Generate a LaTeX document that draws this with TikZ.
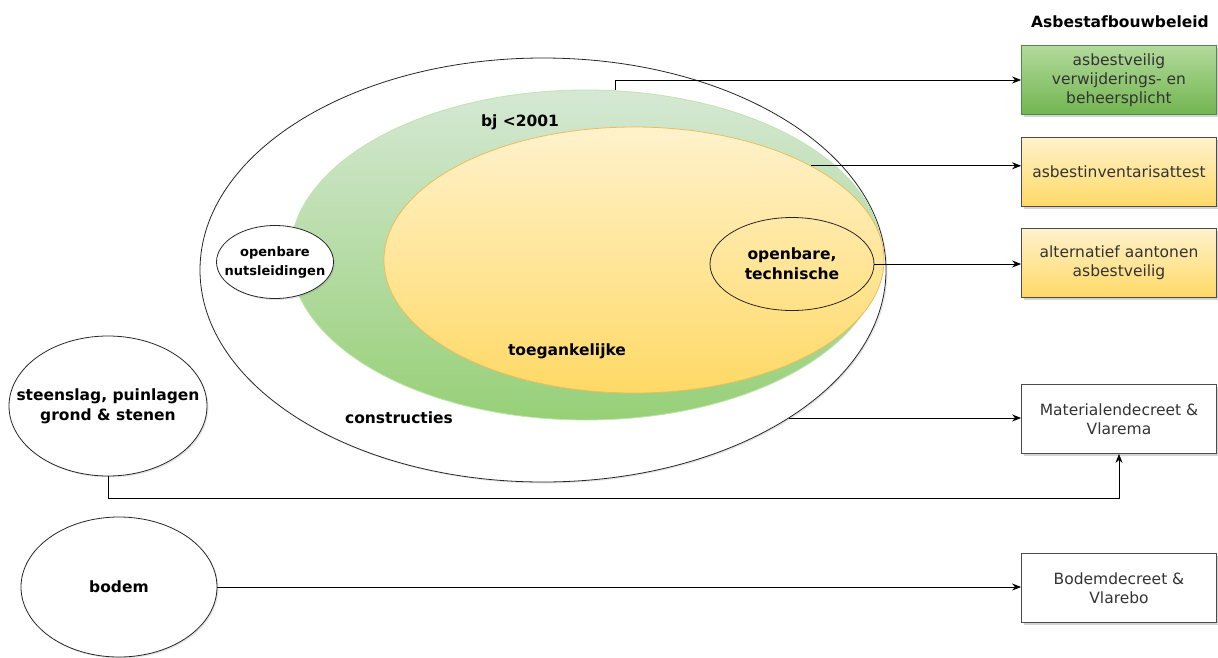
\documentclass[tikz,border=0pt]{standalone}
\usepackage{fontspec}
\setmainfont{DejaVu Sans}
\usetikzlibrary{shapes.geometric,shadows,arrows.meta}
\definecolor{grtop}{HTML}{D5E8D4}
\definecolor{grbot}{HTML}{97D077}
\definecolor{gbtop}{HTML}{B2DA9C}
\definecolor{gbbot}{HTML}{72B550}
\definecolor{yetop}{HTML}{FFF2CC}
\definecolor{yebot}{HTML}{FFD966}

\begin{document}
\begin{tikzpicture}[x=1pt,y=-1pt,line width=0.8pt,>={Stealth[length=9pt,width=7pt]},
    every node/.style={font=\fontsize{15.5}{19}\selectfont},
    lbl/.style={font=\bfseries\fontsize{15.5}{20}\selectfont,align=center},
    ring/.style={ellipse,draw=black!85,inner sep=0pt,lbl},
    blob/.style={ring,fill=white,
      drop shadow={opacity=0.2,shadow xshift=1.5pt,shadow yshift=-1.5pt}},
    box/.style={rectangle,draw=black!70,fill=white,minimum width=195pt,minimum height=69pt,
      align=center,text=black!80,drop shadow={opacity=0.35,shadow xshift=2pt,shadow yshift=-2pt}}]
  \useasboundingbox (0,0) rectangle (1218,657);

  % sets
  \node[blob,minimum width=686pt,minimum height=424pt] (constr) at (543,270) {};
  \node[ellipse,draw=grbot!60,top color=grtop,bottom color=grbot,minimum width=592pt,minimum height=330pt] (bj) at (586,255) {};
  \node[ellipse,draw=yebot!70!brown,top color=yetop,bottom color=yebot,minimum width=500pt,minimum height=266pt] (toeg) at (634,260) {};
  \node[ring,minimum width=164pt,minimum height=93pt] (techn) at (792,264) {openbare,\\technische};
  \node[blob,minimum width=117pt,minimum height=73pt,
    label={[lbl,font=\bfseries\fontsize{13}{19}\selectfont]center:{openbare\\nutsleidingen}}] (nuts) at (275,262) {};
  \node[blob,minimum width=198pt,minimum height=140pt,
    label={[lbl]center:{steenslag, puinlagen\\grond \& stenen}}] (steen) at (108,406) {};
  \node[blob,minimum width=196pt,minimum height=140pt] (bodem) at (119,587) {bodem};

  \node[lbl] (l_constr) at (399,418) {constructies};
  \node[lbl] (l_bj) at (520,122) {bj <2001};
  \node[lbl] (l_toeg) at (567,351) {toegankelijke};

  % beleid
  \node[lbl] (title) at (1120,22) {Asbestafbouwbeleid};
  \node[box,draw=green!35!black!70,top color=gbtop,bottom color=gbbot] (asb) at (1119,80) {asbestveilig\\verwijderings- en\\beheersplicht};
  \node[box,top color=yetop,bottom color=yebot] (inv) at (1119,172) {asbestinventarisattest};
  \node[box,top color=yetop,bottom color=yebot] (alt) at (1119,263) {alternatief aantonen\\asbestveilig};
  \node[box] (mat) at (1119,419) {Materialendecreet \&\\Vlarema};
  \node[box] (bdc) at (1119,588) {Bodemdecreet \&\\Vlarebo};

  \coordinate (low) at (0,498);
  \draw[->] (bj.80) |- (asb.west);
  \draw[->] (toeg.28) -- (toeg.28 -| inv.west);
  \draw[->] (techn.east) -- (techn.east -| alt.west);
  \draw[->] (constr.-31) -- (constr.-31 -| mat.west);
  \draw[->] (steen.south) -- (steen.south |- low) -| (mat.south);
  \draw[->] (bodem.east) -- (bodem.east -| bdc.west);
\end{tikzpicture}
\end{document}
